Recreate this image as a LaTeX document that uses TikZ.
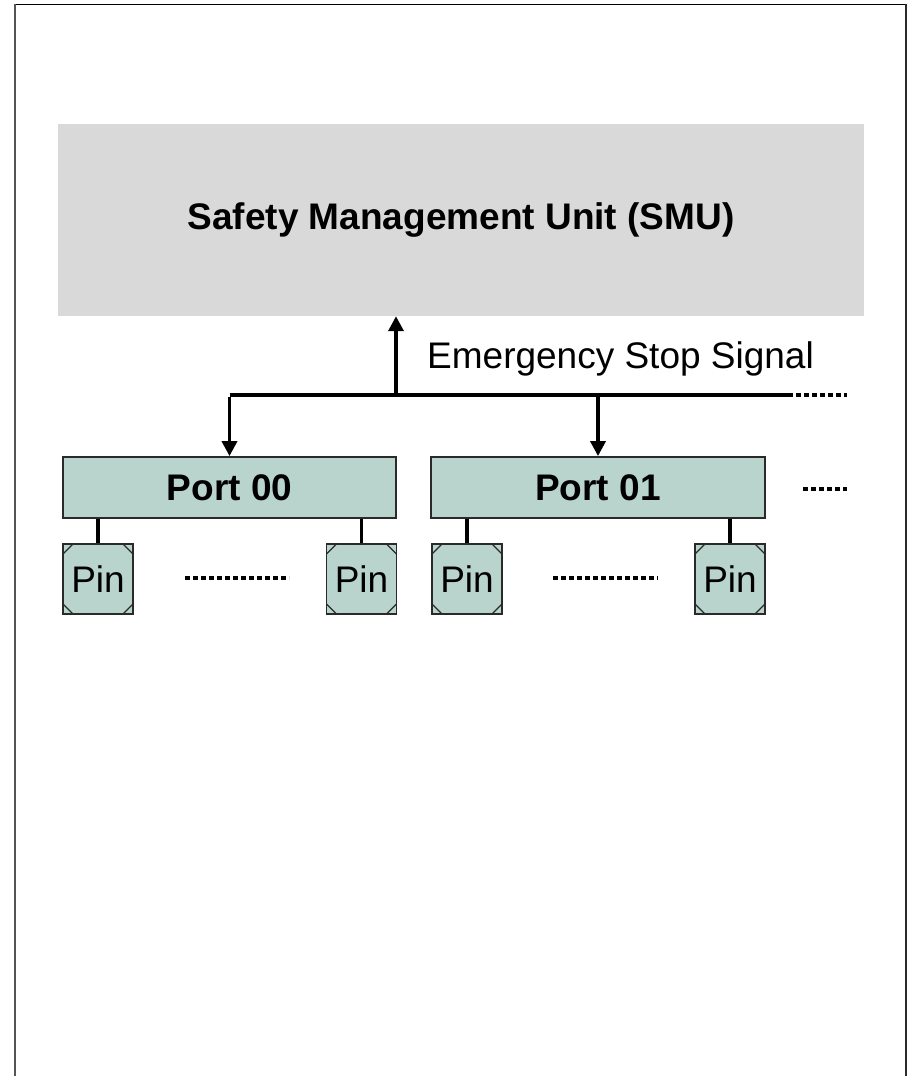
\documentclass[tikz,border=0pt]{standalone}
\usepackage{fontspec}
\setmainfont{Liberation Sans}
\usetikzlibrary{arrows.meta}
\definecolor{smugray}{HTML}{D9D9D9}
\definecolor{portfill}{HTML}{B8D4CC}
\definecolor{edgegray}{HTML}{2A2A2A}
\definecolor{framegray}{HTML}{555555}
\tikzset{
  txt/.style={font=\fontsize{37}{44}\selectfont},
  portbox/.style={draw=edgegray, line width=1.8pt, fill=portfill, minimum height=61pt, inner sep=0pt, font=\fontsize{37}{44}\selectfont\bfseries},
  pinbox/.style={draw=edgegray, line width=1.8pt, fill=portfill, minimum width=70pt, minimum height=70pt, inner sep=0pt, font=\fontsize{37}{44}\selectfont,
    path picture={
      \draw[edgegray, line width=1.2pt]
        ([yshift=-10pt]path picture bounding box.north west) -- ([xshift=10pt]path picture bounding box.north west)
        ([yshift=-10pt]path picture bounding box.north east) -- ([xshift=-10pt]path picture bounding box.north east)
        ([yshift=10pt]path picture bounding box.south west) -- ([xshift=10pt]path picture bounding box.south west)
        ([yshift=10pt]path picture bounding box.south east) -- ([xshift=-10pt]path picture bounding box.south east);
    }},
  wire/.style={line width=3.5pt, black},
  arr/.style={wire, -{Triangle[width=15pt,length=15pt]}},
  dotline/.style={line width=4pt, dash pattern=on 5pt off 3pt, black},
}
\begin{document}
\begin{tikzpicture}[x=1pt,y=-1pt]
\useasboundingbox (0,0) rectangle (912,1076);
% frame
\draw[black, line width=1.2pt] (14,4.5) -- (906,4.5);
\draw[framegray, line width=2.5pt] (15,4) -- (15,1076);
\draw[edgegray, line width=2.2pt] (906,4) -- (906,1076);
% SMU
\node[fill=smugray, minimum width=806pt, minimum height=192pt, inner sep=0pt,
      font=\fontsize{37}{44}\selectfont\bfseries] (smu) at (461,220) {Safety Management Unit (SMU)};
\node[txt, anchor=base west, inner sep=0pt] (ess) at (427,368) {Emergency Stop Signal};
% ports
\node[portbox, minimum width=333pt] (p0) at (229.5,487.5) {Port 00};
\node[portbox, minimum width=334pt] (p1) at (598,487.5) {Port 01};
% pins
\node[pinbox] (pin1) at (98,579) {Pin};
\node[pinbox] (pin2) at (361.5,579) {Pin};
\node[pinbox] (pin3) at (467,579) {Pin};
\node[pinbox] (pin4) at (730,579) {Pin};
% bus
\coordinate (busL) at (229.5,395);
\coordinate (busJ) at (396,395);
\coordinate (busR) at (788,395);
\coordinate (busE) at (847,395);
\draw[wire, line cap=butt] (busL) -- (busR);
\draw[dotline] (busR) -- (busE);
\draw[arr] (busJ) -- (busJ |- smu.south);
\draw[arr] ([yshift=-1.75pt]busL) -- (p0.north);
\draw[arr] (busL -| p1.north) -- (p1.north);
% pin connectors
\draw[wire] (p0.south -| pin1.north) -- (pin1.north);
\draw[wire] (p0.south -| pin2.north) -- (pin2.north);
\draw[wire] (p1.south -| pin3.north) -- (pin3.north);
\draw[wire] (p1.south -| pin4.north) -- (pin4.north);
% continuation dots
\coordinate (d1a) at (803,489); \coordinate (d1b) at (847,489);
\draw[dotline] (d1a) -- (d1b);
\coordinate (d2a) at (185,578); \coordinate (d2b) at (289,578);
\draw[dotline] (d2a) -- (d2b);
\coordinate (d3a) at (553,578); \coordinate (d3b) at (658,578);
\draw[dotline] (d3a) -- (d3b);
\end{tikzpicture}
\end{document}
